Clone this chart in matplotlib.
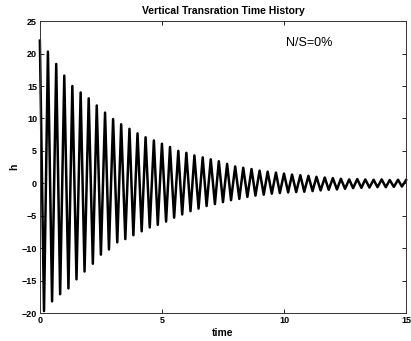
import matplotlib
matplotlib.use("Agg")
from matplotlib import pyplot as plt

plt.rcParams['font.family'] = ['Liberation Sans', 'DejaVu Sans']

# Extrema of the trace (time in s, h)
t_peak = [0.00, 0.33, 0.67, 1.00, 1.33, 1.67, 2.00, 2.33, 2.67, 3.00,
          3.33, 3.67, 4.00, 4.33, 4.67, 5.00, 5.33, 5.67, 6.00, 6.33,
          6.67, 7.00, 7.33, 7.67, 8.00, 8.33, 8.67, 9.00, 9.33, 9.67,
          10.00, 10.33, 10.67, 11.00, 11.33, 11.67, 12.00, 12.33, 12.67, 13.00,
          13.33, 13.67, 14.00, 14.33, 14.67, 15.00]
h_peak = [22.0, 20.3, 18.4, 16.6, 15.0, 14.0, 13.1, 12.0, 10.9, 9.9,
          9.1, 8.4, 7.7, 7.1, 6.6, 6.1, 5.6, 5.0, 4.7, 4.3,
          4.0, 3.7, 3.4, 3.0, 2.6, 2.4, 2.2, 1.95, 1.8, 1.65,
          1.5, 1.35, 1.25, 1.15, 1.0, 0.9, 0.8, 0.7, 0.6, 0.65,
          0.6, 0.55, 0.6, 0.5, 0.55, 0.5]

t_trough = [0.17, 0.50, 0.83, 1.17, 1.50, 1.83, 2.17, 2.50, 2.83, 3.17,
            3.50, 3.83, 4.17, 4.50, 4.83, 5.17, 5.50, 5.83, 6.17, 6.50,
            6.83, 7.17, 7.50, 7.83, 8.17, 8.50, 8.83, 9.17, 9.50, 9.83,
            10.17, 10.50, 10.83, 11.17, 11.50, 11.83, 12.17, 12.50, 12.83, 13.17,
            13.50, 13.83, 14.17, 14.50, 14.83]
h_trough = [-19.7, -18.2, -17.1, -16.2, -14.8, -13.6, -12.4, -11.0, -10.2, -9.1,
            -8.6, -8.0, -7.4, -6.8, -6.4, -5.9, -5.3, -4.8, -4.3, -3.9,
            -3.5, -3.2, -2.9, -2.6, -2.4, -2.1, -1.9, -1.75, -1.6, -1.5,
            -1.4, -1.35, -1.3, -1.2, -1.1, -1.0, -0.95, -0.85, -0.75, -0.7,
            -0.65, -0.6, -0.6, -0.55, -0.5]

# Interleave peaks and troughs into one trace
t = []
h = []
for i in range(len(t_peak)):
    t.append(t_peak[i])
    h.append(h_peak[i])
    if i < len(t_trough):
        t.append(t_trough[i])
        h.append(h_trough[i])

fig = plt.figure(figsize=(4.11, 3.41), dpi=100)
ax = fig.add_axes([0.097, 0.082, 0.891, 0.856])

ax.plot(t, h, color='black', linewidth=1.8, clip_on=False)

ax.set_xlim(0, 15)
ax.set_ylim(-20, 25)
ax.set_xticks([0, 5, 10, 15])
ax.set_yticks(range(-20, 26, 5))
ax.tick_params(direction='in', top=True, right=True, length=3, width=0.6,
               labelsize=6.5, pad=2)
for lab in ax.get_xticklabels() + ax.get_yticklabels():
    lab.set_fontweight('bold')
for s in ax.spines.values():
    s.set_linewidth(0.7)
    s.set_color('#333333')

ax.set_title("Vertical Transration Time History", fontsize=7.5,
             fontweight='bold', pad=5)
ax.set_xlabel("time", fontsize=7.5, fontweight='bold', labelpad=2)
ax.set_ylabel("h", fontsize=7.5, fontweight='bold', labelpad=2)

ax.text(10.1, 21.7, "N/S=0%", fontsize=9, va='center', ha='left')

fig.savefig("out.png", dpi=100)
